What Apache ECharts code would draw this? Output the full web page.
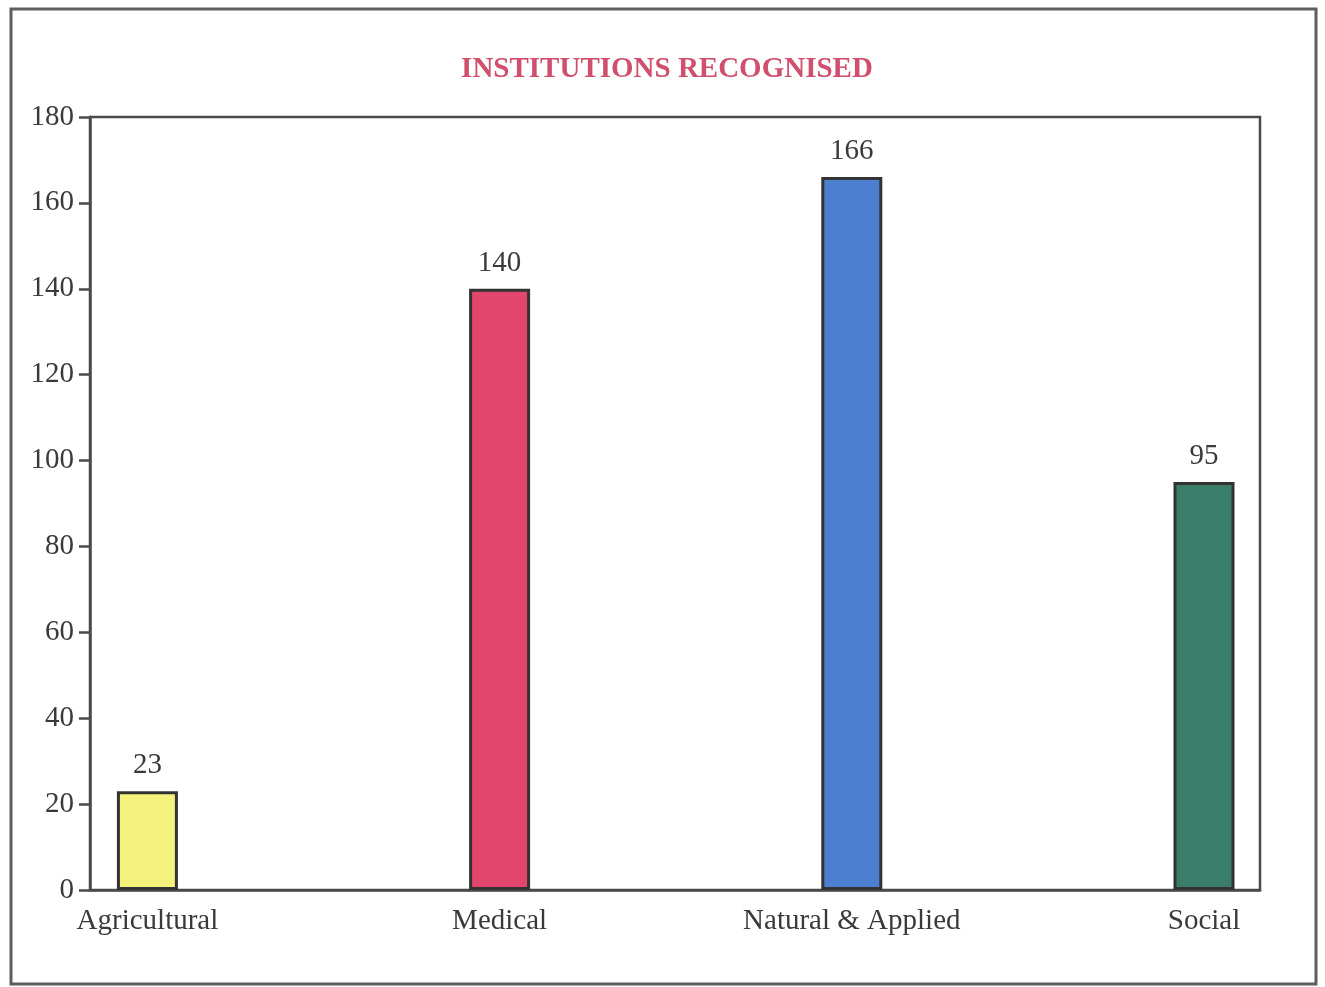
<!DOCTYPE html>
<html>
<head>
<meta charset="utf-8">
<title>Institutions Recognised</title>
<script src="https://cdn.jsdelivr.net/npm/echarts@6/dist/echarts.min.js"></script>
<style>
  html, body { margin: 0; padding: 0; background: #ffffff; }
  #chart { width: 1325px; height: 987px; }
</style>
</head>
<body>
<div id="chart"></div>
<script>
// Institutions recognised, by field
const categories = ['Agricultural', 'Medical', 'Natural & Applied', 'Social'];
const institutions = [23, 140, 166, 95];
const barColors = ['#f4f27c', '#e2466d', '#4c7fd0', '#3a7d68'];
const yTicks = [0, 20, 40, 60, 80, 100, 120, 140, 160, 180];

const serif = '"Liberation Serif", "DejaVu Serif", serif';
const ink = '#3a3a3a';

const chart = echarts.init(document.getElementById('chart'), null, { renderer: 'canvas' });

chart.setOption({
  backgroundColor: '#ffffff',
  animation: false,
  title: {
    text: 'INSTITUTIONS RECOGNISED',
    left: 662,
    textAlign: 'center',
    top: 50,
    textStyle: {
      fontFamily: serif,
      fontWeight: 'bold',
      fontSize: 29,
      color: '#cf4f6c'
    }
  },
  graphic: [{
    type: 'rect',
    shape: { x: 11, y: 9, width: 1305, height: 975 },
    style: { fill: 'none', stroke: '#5e5e5e', lineWidth: 3 },
    z: 100
  }],
  grid: {
    left: 90,
    top: 117,
    right: 65,
    bottom: 97,
    show: true,
    borderColor: '#4a4a4a',
    borderWidth: 2.5,
    containLabel: false
  },
  xAxis: {
    type: 'value',
    min: -0.163,
    max: 3.159,
    splitLine: { show: false },
    axisTick: { show: false },
    axisLine: { show: true, onZero: false, lineStyle: { color: '#4a4a4a', width: 2.5 } },
    axisLabel: {
      customValues: categories.map((c, i) => i),
      formatter: v => categories[Math.round(v)],
      fontFamily: serif,
      fontSize: 29,
      color: ink,
      margin: 17
    }
  },
  yAxis: {
    type: 'value',
    min: yTicks[0],
    max: yTicks[yTicks.length - 1],
    interval: 20,
    splitLine: { show: false },
    axisLine: { show: true, onZero: false, lineStyle: { color: '#4a4a4a', width: 2.5 } },
    axisTick: { show: true, length: 11, lineStyle: { color: '#4a4a4a', width: 2.5 } },
    axisLabel: {
      fontFamily: serif,
      fontSize: 29,
      color: ink,
      margin: 16
    }
  },
  series: [{
    type: 'bar',
    barWidth: 61,
    data: institutions.map((v, i) => ({
      value: [i, v],
      itemStyle: { color: barColors[i] }
    })),
    itemStyle: { borderColor: '#333333', borderWidth: 3 },
    label: {
      show: true,
      position: 'top',
      distance: 11,
      formatter: p => p.value[1],
      fontFamily: serif,
      fontSize: 29,
      color: ink
    }
  }]
});
</script>
</body>
</html>
